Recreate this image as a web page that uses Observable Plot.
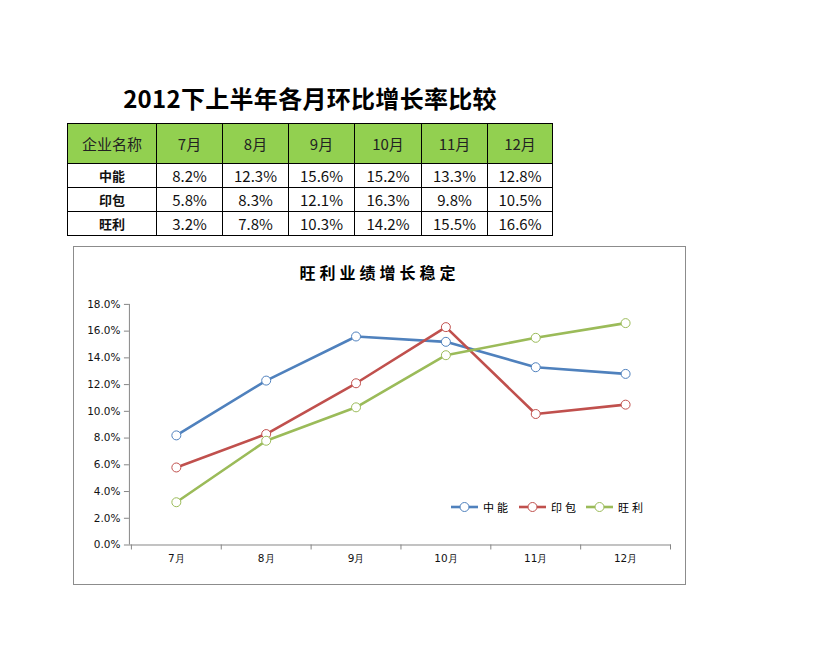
<!DOCTYPE html>
<html>
<head>
<meta charset="utf-8">
<script src="https://cdn.jsdelivr.net/npm/d3@7"></script>
<script src="https://cdn.jsdelivr.net/npm/@observablehq/plot@0.6"></script>
<style>
  body { margin:0; background:#fff; font-family:"Noto Sans CJK SC","Noto Sans",sans-serif; }
  #page { position:relative; width:819px; height:661px; }
  #title { position:absolute; left:67px; top:80px; width:486px; text-align:center; font-size:24px; font-weight:700; color:#000; line-height:36px; letter-spacing:0.3px; }
  #tbl { position:absolute; left:67px; top:123px; border-collapse:collapse; color:#111; }
  #tbl td { border:1px solid #000; text-align:center; padding:0; font-size:15px; }
  #tbl tr.head td { background:#92d050; height:39px; font-size:15px; color:#222; }
  #tbl tr.row td { height:23px; line-height:22px; }
  #tbl tr.row td.name { font-weight:700; font-size:13px; }
  #box { position:absolute; left:73px; top:246px; width:613px; height:339px; box-sizing:border-box; border:1px solid #8c8c8c; }
  #ctitle { position:absolute; left:0; top:14px; width:100%; text-align:center; font-size:16px; font-weight:700; letter-spacing:4px; color:#000; line-height:22px; }
  #chart { position:absolute; left:-1px; top:-1px; }
  #chart [aria-label*="axis"] line, #chart [aria-label*="axis"] path { stroke:#868686; }
  #legend { position:absolute; top:250px; left:376px; height:16px; font-size:11px; letter-spacing:3px; color:#000; }
  .lg { position:absolute; top:0; white-space:nowrap; }
  .lg svg { vertical-align:middle; }
  .lg span { vertical-align:middle; margin-left:4px; }
</style>
</head>
<body>
<div id="page">
  <div id="title"></div>
  <table id="tbl"></table>
  <div id="box">
    <div id="ctitle"></div>
    <div id="chart"></div>
    <div id="legend"></div>
  </div>
</div>
<script>
const pageTitle = "2012下上半年各月环比增长率比较";
const chartTitle = "旺利业绩增长稳定";
const headerLabel = "企业名称";
const months = ["7月", "8月", "9月", "10月", "11月", "12月"];
const companies = ["中能", "印包", "旺利"];
const zhongneng = [8.2, 12.3, 15.6, 15.2, 13.3, 12.8];
const yinbao = [5.8, 8.3, 12.1, 16.3, 9.8, 10.5];
const wangli = [3.2, 7.8, 10.3, 14.2, 15.5, 16.6];
const yTicks = [0, 2, 4, 6, 8, 10, 12, 14, 16, 18];
const colors = ["#4f81bd", "#c0504d", "#9bbb59"];

const seriesValues = [zhongneng, yinbao, wangli];

document.getElementById("title").textContent = pageTitle;
document.getElementById("ctitle").textContent = chartTitle;

// table
const colWidths = [89, 66, 66, 66, 67, 66, 65];
const tbl = document.getElementById("tbl");
{
  const tr = document.createElement("tr"); tr.className = "head";
  [headerLabel, ...months].forEach((t, i) => {
    const td = document.createElement("td"); td.textContent = t;
    td.style.width = (colWidths[i] - 1) + "px";
    tr.appendChild(td);
  });
  tbl.appendChild(tr);
  companies.forEach((c, k) => {
    const r = document.createElement("tr"); r.className = "row";
    const td0 = document.createElement("td"); td0.className = "name"; td0.textContent = c; r.appendChild(td0);
    seriesValues[k].forEach(v => {
      const td = document.createElement("td"); td.textContent = v.toFixed(1) + "%"; r.appendChild(td);
    });
    tbl.appendChild(r);
  });
}

// data table for plot
const data = [];
companies.forEach((c, k) => months.forEach((m, i) => data.push({company: c, month: m, value: seriesValues[k][i] / 100})));

const axisLines = (index, scales, values, dimensions) => {
  const {width, height, marginLeft, marginRight, marginTop, marginBottom} = dimensions;
  const g = d3.create("svg:g").attr("stroke", "#868686").attr("fill", "none");
  const y0 = height - marginBottom;
  g.append("line").attr("x1", marginLeft + 0.5).attr("x2", marginLeft + 0.5).attr("y1", marginTop).attr("y2", y0);
  g.append("line").attr("x1", marginLeft).attr("x2", width - marginRight).attr("y1", y0 + 0.5).attr("y2", y0 + 0.5);
  const bw = scales.x.bandwidth();
  const bounds = months.map(m => scales.x(m)).concat([scales.x(months[months.length - 1]) + bw]);
  bounds.forEach(x => g.append("line").attr("x1", x + 0.5).attr("x2", x + 0.5).attr("y1", y0).attr("y2", y0 + 5));
  return g.node();
};

const chart = Plot.plot({
  width: 613,
  height: 339,
  marginLeft: 56,
  marginRight: 14,
  marginTop: 58,
  marginBottom: 40,
  style: {fontFamily: "'DejaVu Sans', sans-serif", fontSize: "10.5px", color: "#111", background: "transparent"},
  x: {type: "band", domain: months, padding: 0, tickSize: 0, tickPadding: 10, label: null},
  y: {domain: [0, 0.18], ticks: yTicks.map(t => t / 100), tickFormat: d3.format(".1%"), tickSize: 5, tickPadding: 4, label: null},
  color: {domain: companies, range: colors},
  marks: [
    axisLines,
    Plot.line(data, {x: "month", y: "value", z: "company", stroke: "company", strokeWidth: 2.6, curve: "linear"}),
    Plot.dot(data, {x: "month", y: "value", stroke: "company", fill: "white", r: 4.5, strokeWidth: 1})
  ]
});
document.getElementById("chart").appendChild(chart);

// legend
const legendX = [0, 68, 135];
const lg = document.getElementById("legend");
companies.forEach((c, k) => {
  const d = document.createElement("div"); d.className = "lg"; d.style.left = legendX[k] + "px";
  d.innerHTML = `<svg width="29" height="12"><line x1="1" x2="28" y1="6" y2="6" stroke="${colors[k]}" stroke-width="2.6"/><circle cx="14.5" cy="6" r="4.5" fill="white" stroke="${colors[k]}"/></svg><span>${c}</span>`;
  lg.appendChild(d);
});
</script>
</body>
</html>
